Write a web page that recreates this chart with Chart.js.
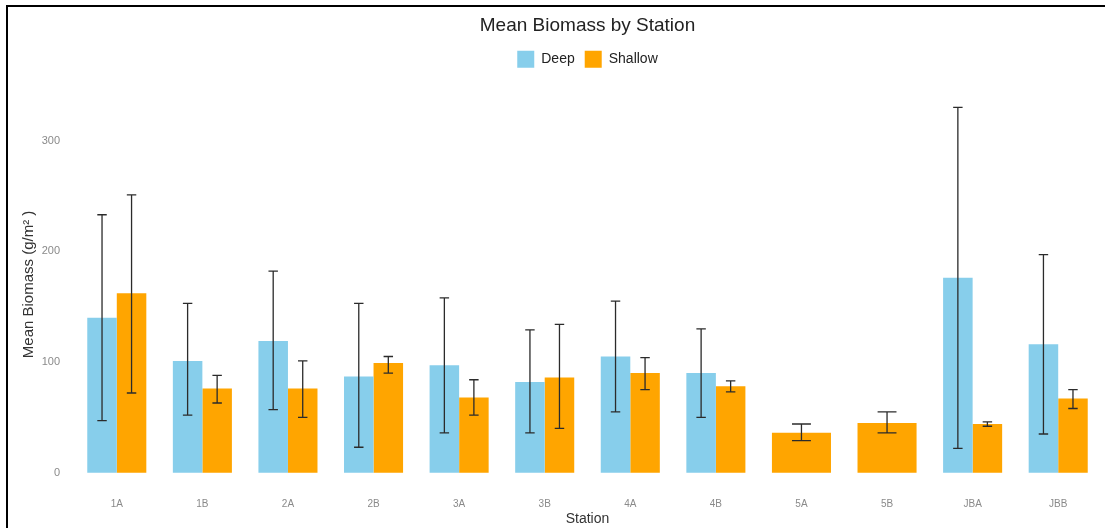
<!DOCTYPE html>
<html>
<head>
<meta charset="utf-8">
<script src="https://cdn.jsdelivr.net/npm/chart.js@4"></script>
<style>
  html, body { margin: 0; padding: 0; background: #fff; }
  #wrap { position: relative; width: 1105px; height: 528px; }
  #frame { position: absolute; left: 6px; top: 5px; right: -4px; bottom: -4px; border-left: 2px solid #000; border-top: 2px solid #000; pointer-events: none; }
</style>
</head>
<body>
<div id="wrap">
  <canvas id="myChart" width="1105" height="528"></canvas>
  <div id="frame"></div>
</div>
<script>
const stations = ['1A', '1B', '2A', '2B', '3A', '3B', '4A', '4B', '5A', '5B', 'JBA', 'JBB'];

const deepMean = [140, 101, 119, 87, 97, 82, 105, 90, null, null, 176, 116];
const deepLow  = [47, 52, 57, 23, 36, 36, 55, 50, null, null, 22, 35];
const deepHigh = [233, 153, 182, 153, 158, 129, 155, 130, null, null, 330, 197];

// 5A and 5B only have shallow samples, drawn full width
const shallowMean = [162, 76, 76, 99, 68, 86, 90, 78, null, null, 44, 67];
const shallowLow  = [72, 63, 50, 90, 52, 40, 75, 73, null, null, 42, 58];
const shallowHigh = [251, 88, 101, 105, 84, 134, 104, 83, null, null, 46, 75];

const shallowOnlyMean = [null, null, null, null, null, null, null, null, 36, 45, null, null];
const shallowOnlyLow  = [null, null, null, null, null, null, null, null, 29, 36, null, null];
const shallowOnlyHigh = [null, null, null, null, null, null, null, null, 44, 55, null, null];

const yTicks = [0, 100, 200, 300];

const errorBars = {
  id: 'errorBars',
  afterDatasetsDraw(chart) {
    const ctx = chart.ctx;
    const y = chart.scales.y;
    ctx.save();
    ctx.strokeStyle = '#2b2b2b';
    ctx.lineWidth = 1.3;
    chart.data.datasets.forEach((ds, i) => {
      const meta = chart.getDatasetMeta(i);
      meta.data.forEach((bar, j) => {
        const lo = ds.errLow[j], hi = ds.errHigh[j];
        if (lo == null || hi == null) return;
        const x = bar.x;
        const half = bar.width * 0.16;
        const yLo = y.getPixelForValue(lo), yHi = y.getPixelForValue(hi);
        ctx.beginPath();
        ctx.moveTo(x, yLo); ctx.lineTo(x, yHi);
        ctx.moveTo(x - half, yLo); ctx.lineTo(x + half, yLo);
        ctx.moveTo(x - half, yHi); ctx.lineTo(x + half, yHi);
        ctx.stroke();
      });
    });
    ctx.restore();
  }
};

const font = 'Liberation Sans, Arial, sans-serif';
const ctx = document.getElementById('myChart').getContext('2d');
new Chart(ctx, {
  type: 'bar',
  data: {
    labels: stations,
    datasets: [
      { label: 'Deep', data: deepMean, errLow: deepLow, errHigh: deepHigh,
        backgroundColor: '#87CEEB' },
      { label: 'Shallow', data: shallowMean, errLow: shallowLow, errHigh: shallowHigh,
        backgroundColor: '#FFA500' },
      { label: 'ShallowOnly', data: shallowOnlyMean, errLow: shallowOnlyLow, errHigh: shallowOnlyHigh,
        backgroundColor: '#FFA500', grouped: false }
    ]
  },
  options: {
    responsive: false,
    animation: false,
    categoryPercentage: 0.69,
    barPercentage: 1.0,
    layout: { padding: { left: 8, right: 4, top: 8 } },
    plugins: {
      title: {
        display: true,
        text: 'Mean Biomass by Station',
        color: '#222',
        font: { family: font, size: 19, weight: 'normal' },
        padding: { top: 6, bottom: 4 },
        fullSize: false
      },
      legend: {
        position: 'top',
        fullSize: false,
        labels: {
          boxWidth: 17, boxHeight: 17,
          color: '#222',
          font: { family: font, size: 14 },
          padding: 10,
          filter: item => item.text !== 'ShallowOnly'
        }
      },
      tooltip: { enabled: false }
    },
    scales: {
      x: {
        grid: { display: false, drawTicks: false },
        border: { display: false },
        afterFit: s => { s.height = 37; },
        ticks: { color: '#8a8a8a', font: { family: font, size: 10 }, padding: 7 },
        title: { display: true, text: 'Station', color: '#333',
          font: { family: font, size: 14 }, padding: { top: 0, bottom: 0 } }
      },
      y: {
        min: -16.5,
        max: 356.7,
        grid: { display: false, drawTicks: false },
        border: { display: false },
        afterBuildTicks: s => { s.ticks = yTicks.map(v => ({ value: v })); },
        afterFit: s => { s.width = 66; },
        ticks: { color: '#8a8a8a', font: { family: font, size: 11 }, padding: 14 },
        title: { display: true, text: 'Mean Biomass (g/m² )', color: '#333',
          font: { family: font, size: 15 }, padding: { top: 12, bottom: 0 } }
      }
    }
  },
  plugins: [errorBars]
});
</script>
</body>
</html>
